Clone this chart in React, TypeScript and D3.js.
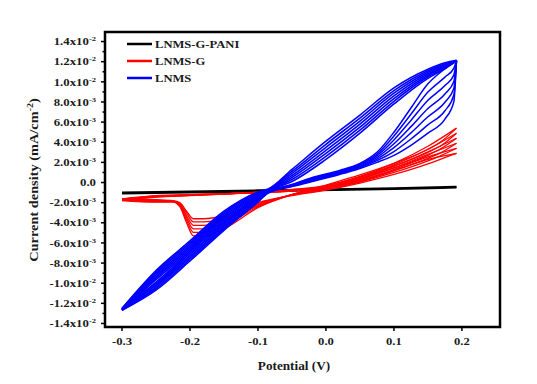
import React, { useEffect, useRef } from 'react';
import * as d3 from 'd3';

// current density values are in units of 1e-3 mA/cm^-2
const Y_TICKS = [14, 12, 10, 8, 6, 4, 2, 0, -2, -4, -6, -8, -10, -12, -14];
const Y_TICK_MANT = ['1.4', '1.2', '1.0', '8.0', '6.0', '4.0', '2.0', '0.0', '-2.0', '-4.0', '-6.0', '-8.0', '-1.0', '-1.2', '-1.4'];
const Y_TICK_EXP = ['-2', '-2', '-2', '-3', '-3', '-3', '-3', '', '-3', '-3', '-3', '-3', '-2', '-2', '-2'];
const X_TICKS = [-0.3, -0.2, -0.1, 0.0, 0.1, 0.2];
const X_TICK_LABELS = ['-0.3', '-0.2', '-0.1', '0.0', '0.1', '0.2'];

// LNMS-G-PANI (black)
const PANI_V = [-0.3, -0.1, 0.1, 0.192];
const PANI_FWD = [-1.0, -0.78, -0.56, -0.42];
const PANI_REV = [-1.1, -0.88, -0.64, -0.5];

// LNMS-G (red), forward scans
const G_FWD_V = [-0.3, -0.25, -0.2, -0.15, -0.1, -0.05, 0, 0.05, 0.1, 0.15, 0.192];
const G_FWD = [
  [-1.8, -1.45, -1.3, -1.15, -0.95, -0.7, -0.3, 0.6, 1.9, 3.6, 5.4],
  [-1.75, -1.42, -1.28, -1.14, -0.97, -0.73, -0.35, 0.5, 1.75, 3.3, 4.9],
  [-1.7, -1.39, -1.26, -1.13, -0.99, -0.76, -0.4, 0.4, 1.6, 3.05, 4.4],
  [-1.68, -1.36, -1.24, -1.12, -1.01, -0.79, -0.45, 0.3, 1.45, 2.8, 3.9],
  [-1.65, -1.33, -1.22, -1.11, -1.03, -0.82, -0.5, 0.2, 1.3, 2.55, 3.4],
  [-1.62, -1.3, -1.2, -1.1, -1.05, -0.85, -0.55, 0.1, 1.15, 2.3, 2.9],
];
// LNMS-G (red), reverse scans
const G_REV_V = [0.192, 0.17, 0.15, 0.1, 0.05, 0, -0.05, -0.1, -0.15, -0.18, -0.195, -0.205, -0.215, -0.225, -0.25, -0.3];
const G_REV = [
  [5.4, 4.1, 3.3, 1.9, 0.75, -0.25, -1.2, -2.5, -4.6, -5.3, -5.3, -4.0, -2.4, -1.95, -1.95, -1.8],
  [4.9, 3.7, 3.0, 1.65, 0.55, -0.4, -1.2, -2.4, -4.3, -4.95, -4.95, -3.75, -2.3, -1.9, -1.9, -1.75],
  [4.4, 3.4, 2.7, 1.45, 0.35, -0.5, -1.2, -2.3, -4.05, -4.6, -4.6, -3.5, -2.2, -1.88, -1.85, -1.7],
  [3.9, 3.0, 2.4, 1.2, 0.2, -0.6, -1.2, -2.2, -3.8, -4.25, -4.25, -3.3, -2.15, -1.85, -1.8, -1.68],
  [3.4, 2.7, 2.15, 1.0, 0.05, -0.7, -1.25, -2.1, -3.55, -3.9, -3.9, -3.05, -2.1, -1.82, -1.75, -1.65],
  [2.9, 2.35, 1.85, 0.8, -0.05, -0.75, -1.3, -2.0, -3.3, -3.6, -3.6, -2.85, -2.0, -1.8, -1.7, -1.62],
];

// LNMS (blue), forward scans
const L_FWD_V = [-0.3, -0.25, -0.2, -0.15, -0.1, -0.085, -0.05, 0, 0.05, 0.1, 0.15, 0.175, 0.192];
const L_FWD = [
  [-12.7, -9.65, -6.8, -3.75, -1.45, -0.85, 0.1, 2.3, 4.9, 7.8, 10.35, 11.3, 12.05],
  [-12.67, -9.5, -6.63, -3.6, -1.37, -0.82, 0.3, 2.6, 5.2, 8.07, 10.5, 11.4, 12.07],
  [-12.63, -9.35, -6.47, -3.45, -1.28, -0.78, 0.5, 2.9, 5.5, 8.33, 10.65, 11.5, 12.08],
  [-12.6, -9.2, -6.3, -3.3, -1.2, -0.75, 0.7, 3.2, 5.8, 8.6, 10.8, 11.6, 12.1],
  [-12.57, -9.05, -6.13, -3.15, -1.12, -0.72, 0.9, 3.5, 6.1, 8.87, 10.95, 11.7, 12.12],
  [-12.53, -8.9, -5.97, -3.0, -1.03, -0.68, 1.1, 3.8, 6.4, 9.13, 11.1, 11.8, 12.13],
  [-12.5, -8.75, -5.8, -2.85, -0.95, -0.65, 1.3, 4.1, 6.7, 9.4, 11.25, 11.9, 12.15],
];
// LNMS (blue), reverse scans
const L_REV_V = [0.192, 0.188, 0.175, 0.15, 0.125, 0.1, 0.075, 0.05, 0.02, -0.02, -0.05, -0.085, -0.1, -0.15, -0.2, -0.25, -0.3];
const L_REV = [
  [12.1, 12.0, 11.3, 9.8, 7.4, 5.0, 3.0, 1.9, 1.2, 0.5, -0.2, -0.9, -1.5, -3.9, -6.9, -9.9, -12.6],
  [12.1, 11.33, 10.47, 8.98, 6.78, 4.62, 2.83, 1.82, 1.13, 0.43, -0.23, -0.93, -1.58, -4.04, -7.05, -10.03, -12.62],
  [12.1, 10.67, 9.63, 8.17, 6.17, 4.23, 2.67, 1.73, 1.07, 0.37, -0.27, -0.95, -1.65, -4.18, -7.2, -10.17, -12.63],
  [12.1, 10.0, 8.8, 7.35, 5.55, 3.85, 2.5, 1.65, 1.0, 0.3, -0.3, -0.98, -1.73, -4.33, -7.35, -10.3, -12.65],
  [12.1, 9.33, 7.97, 6.53, 4.93, 3.47, 2.33, 1.57, 0.93, 0.23, -0.33, -1.0, -1.8, -4.47, -7.5, -10.43, -12.67],
  [12.1, 8.67, 7.13, 5.72, 4.32, 3.08, 2.17, 1.48, 0.87, 0.17, -0.37, -1.03, -1.88, -4.61, -7.65, -10.57, -12.68],
  [12.1, 8.0, 6.3, 4.9, 3.7, 2.7, 2.0, 1.4, 0.8, 0.1, -0.4, -1.05, -1.95, -4.75, -7.8, -10.7, -12.7],
];

const LEGEND = ['LNMS-G-PANI', 'LNMS-G', 'LNMS'];
const COLORS = ['#000000', '#ff0000', '#0000ff'];

const FONT = '"Liberation Serif", "Times New Roman", serif';

const App: React.FC = () => {
  const svgRef = useRef<SVGSVGElement>(null);

  useEffect(() => {
    if (!svgRef.current) return;
    const svg = d3.select(svgRef.current);
    svg.selectAll('*').remove();

    const plot = { left: 105, right: 500, top: 32, bottom: 327 };
    const x = d3.scaleLinear().domain([-0.325, 0.256]).range([plot.left, plot.right]);
    const y = d3.scaleLinear().domain([-14.35, 14.95]).range([plot.bottom, plot.top]);

    const line = d3.line<[number, number]>()
      .x(d => x(d[0]))
      .y(d => y(d[1]))
      .curve(d3.curveMonotoneX);

    const branch = (vs: number[], js: number[]) =>
      (d3.zip(vs, js) as [number, number][]).slice().sort((a, b) => a[0] - b[0]);

    const g = svg.append('g').attr('fill', 'none').attr('stroke-linejoin', 'round');

    // black
    [PANI_FWD, PANI_REV].forEach(js => {
      g.append('path').attr('d', line(branch(PANI_V, js))).attr('stroke', COLORS[0]).attr('stroke-width', 2);
    });
    // red
    G_FWD.forEach(js => {
      g.append('path').attr('d', line(branch(G_FWD_V, js))).attr('stroke', COLORS[1]).attr('stroke-width', 1.3);
    });
    G_REV.forEach(js => {
      g.append('path').attr('d', line(branch(G_REV_V, js))).attr('stroke', COLORS[1]).attr('stroke-width', 1.3);
    });
    // blue
    L_FWD.forEach(js => {
      g.append('path').attr('d', line(branch(L_FWD_V, js))).attr('stroke', COLORS[2]).attr('stroke-width', 1.6);
    });
    L_REV.forEach(js => {
      g.append('path').attr('d', line(branch(L_REV_V, js))).attr('stroke', COLORS[2]).attr('stroke-width', 1.5);
    });

    // frame
    svg.append('rect')
      .attr('x', plot.left).attr('y', plot.top)
      .attr('width', plot.right - plot.left).attr('height', plot.bottom - plot.top)
      .attr('fill', 'none').attr('stroke', '#000').attr('stroke-width', 2.5);

    const axis = svg.append('g').attr('stroke', '#000').attr('stroke-width', 1.5);
    Y_TICKS.forEach(t => {
      axis.append('line').attr('x1', plot.left - 4).attr('x2', plot.left).attr('y1', y(t)).attr('y2', y(t));
    });
    d3.range(-13, 14, 2).forEach(t => {
      axis.append('line').attr('x1', plot.left - 2.5).attr('x2', plot.left).attr('y1', y(t)).attr('y2', y(t));
    });
    X_TICKS.forEach(t => {
      axis.append('line').attr('x1', x(t)).attr('x2', x(t)).attr('y1', plot.bottom).attr('y2', plot.bottom + 4);
    });

    const txt = svg.append('g')
      .attr('font-family', FONT).attr('font-weight', 'bold').attr('fill', '#1a1a1a');

    Y_TICKS.forEach((t, i) => {
      const gg = txt.append('g').attr('transform', `translate(96,${y(t)}) scale(1.22,1)`);
      const tx = gg.append('text').attr('text-anchor', 'end').attr('dy', '0.35em').attr('font-size', 10.5);
      if (Y_TICK_EXP[i]) {
        tx.append('tspan').text(`${Y_TICK_MANT[i]}x10`);
        tx.append('tspan').attr('dy', -4).attr('font-size', 7).text(Y_TICK_EXP[i]);
      } else {
        tx.append('tspan').text(Y_TICK_MANT[i]);
      }
    });

    X_TICKS.forEach((t, i) => {
      txt.append('g').attr('transform', `translate(${x(t)},345) scale(1.2,1)`)
        .append('text').attr('text-anchor', 'middle').attr('font-size', 10.5).text(X_TICK_LABELS[i]);
    });

    txt.append('g').attr('transform', `translate(${x(-0.05) + 2},370) scale(1.15,1)`)
      .append('text').attr('text-anchor', 'middle').attr('font-size', 11.5).text('Potential (V)');

    const yt = txt.append('g').attr('transform', 'translate(38,180) rotate(-90) scale(1.25,1)')
      .append('text').attr('text-anchor', 'middle').attr('font-size', 11.5);
    yt.append('tspan').text('Current density (mA/cm');
    yt.append('tspan').attr('dy', -5).attr('font-size', 8).text('-2');
    yt.append('tspan').attr('dy', 5).text(')');

    // legend
    LEGEND.forEach((name, i) => {
      const ly = 44 + i * 17;
      svg.append('line').attr('x1', 127).attr('x2', 152).attr('y1', ly).attr('y2', ly)
        .attr('stroke', COLORS[i]).attr('stroke-width', 2.5);
      txt.append('g').attr('transform', `translate(155,${ly}) scale(1.2,1)`)
        .append('text').attr('dy', '0.35em').attr('font-size', 10.5).text(name);
    });
  }, []);

  return (
    <svg
      ref={svgRef}
      width={537}
      height={384}
      style={{ position: 'absolute', left: 0, top: 0, background: '#fff' }}
    />
  );
};

export default App;
